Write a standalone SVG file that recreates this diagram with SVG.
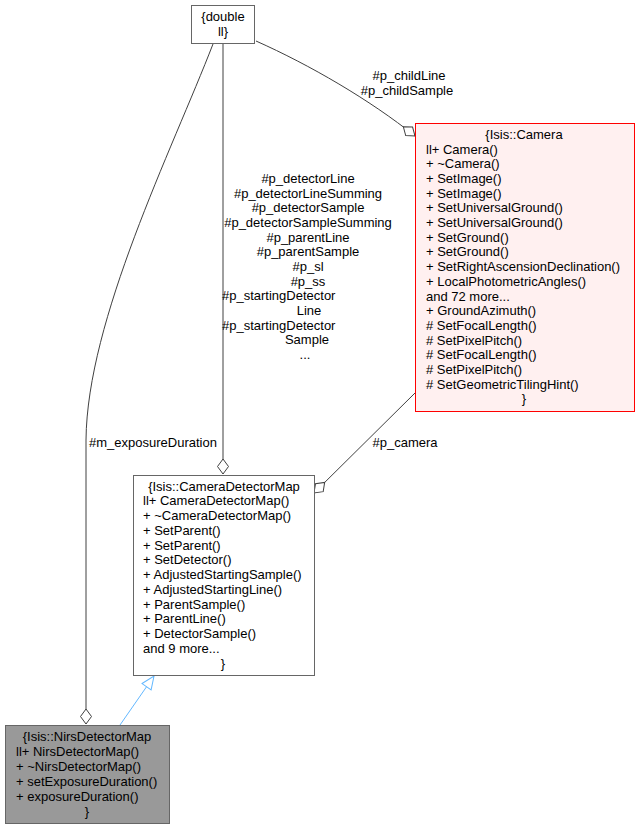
<svg xmlns="http://www.w3.org/2000/svg" width="639" height="829" viewBox="0 0 639 829">
<style>
text{font-family:"Liberation Sans",Arial,sans-serif;font-size:13px;fill:#000}
.m{text-anchor:middle}
.box{fill:#fff;stroke:#666;stroke-width:1}
.edge{fill:none;stroke:#404040;stroke-width:1}
.inh{fill:none;stroke:#63b8ff;stroke-width:1}
</style>
<defs>
<marker id="dia" markerUnits="userSpaceOnUse" markerWidth="18" markerHeight="14" viewBox="-1.5 -7 18 14" refX="15" refY="0" orient="auto" overflow="visible">
<path d="M0,0 L7.5,-5.5 L15,0 L7.5,5.5 Z" fill="#fff" stroke="#404040" stroke-width="1"/>
</marker>
<marker id="tri" markerUnits="userSpaceOnUse" markerWidth="16" markerHeight="14" viewBox="-1.5 -7 16 14" refX="13" refY="0" orient="auto" overflow="visible">
<path d="M0,-5.5 L13,0 L0,5.5 Z" fill="#fff" stroke="#63b8ff" stroke-width="1"/>
</marker>
</defs>
<g id="connectors">
<path class="edge" d="M213,44 C172,150 87,320 86,440 L86,724" marker-end="url(#dia)"/>
<text class="m" x="153" y="447">#m_exposureDuration</text>
<path class="edge" d="M223,44 L223,474" marker-end="url(#dia)"/>
<text class="m" x="308" y="183">#p_detectorLine</text>
<text class="m" x="308" y="197.5">#p_detectorLineSumming</text>
<text class="m" x="308" y="212">#p_detectorSample</text>
<text class="m" x="308" y="227">#p_detectorSampleSumming</text>
<text class="m" x="308" y="241.5">#p_parentLine</text>
<text class="m" x="308" y="256">#p_parentSample</text>
<text class="m" x="308" y="271">#p_sl</text>
<text class="m" x="308" y="285.5">#p_ss</text>
<text x="222" y="300">#p_startingDetector</text>
<text class="m" x="309" y="315">Line</text>
<text x="222" y="329.5">#p_startingDetector</text>
<text class="m" x="307" y="344">Sample</text>
<text class="m" x="305" y="359">...</text>
<path class="edge" d="M256,41 C310,65 370,100 415,136" marker-end="url(#dia)"/>
<text class="m" x="409" y="80">#p_childLine</text>
<text class="m" x="407" y="95">#p_childSample</text>
<path class="edge" d="M415,393 L314,493" marker-end="url(#dia)"/>
<text class="m" x="405" y="447">#p_camera</text>
<path class="inh" d="M120,725 L154,676" marker-end="url(#tri)"/>
</g>
<g id="node-double">
<rect class="box" x="191.5" y="5.5" width="63" height="38"/>
<text class="m" x="223" y="21">{double</text>
<text class="m" x="223" y="36">ll}</text>
</g>
<g id="node-camera">
<rect x="415.5" y="123.5" width="219" height="288" fill="#fff0f0" stroke="#ff0000"/>
<text class="m" x="524" y="139">{Isis::Camera</text>
<text x="426" y="153.7">ll+ Camera()</text>
<text x="426" y="168.4">+ ~Camera()</text>
<text x="426" y="183">+ SetImage()</text>
<text x="426" y="197.7">+ SetImage()</text>
<text x="426" y="212.4">+ SetUniversalGround()</text>
<text x="426" y="227.1">+ SetUniversalGround()</text>
<text x="426" y="241.8">+ SetGround()</text>
<text x="426" y="256.4">+ SetGround()</text>
<text x="426" y="271.1">+ SetRightAscensionDeclination()</text>
<text x="426" y="285.8">+ LocalPhotometricAngles()</text>
<text x="426" y="300.5">and 72 more...</text>
<text x="426" y="315.2">+ GroundAzimuth()</text>
<text x="426" y="329.8"># SetFocalLength()</text>
<text x="426" y="344.5"># SetPixelPitch()</text>
<text x="426" y="359.2"># SetFocalLength()</text>
<text x="426" y="373.9"># SetPixelPitch()</text>
<text x="426" y="388.6"># SetGeometricTilingHint()</text>
<text class="m" x="524" y="403.2">}</text>
</g>
<g id="node-cameradetectormap">
<rect class="box" x="133.5" y="475.5" width="181" height="200"/>
<text class="m" x="224" y="490.5">{Isis::CameraDetectorMap</text>
<text x="143" y="505.2">ll+ CameraDetectorMap()</text>
<text x="143" y="520">+ ~CameraDetectorMap()</text>
<text x="143" y="534.7">+ SetParent()</text>
<text x="143" y="549.5">+ SetParent()</text>
<text x="143" y="564.2">+ SetDetector()</text>
<text x="143" y="579">+ AdjustedStartingSample()</text>
<text x="143" y="593.7">+ AdjustedStartingLine()</text>
<text x="143" y="608.5">+ ParentSample()</text>
<text x="143" y="623.2">+ ParentLine()</text>
<text x="143" y="638">+ DetectorSample()</text>
<text x="143" y="652.7">and 9 more...</text>
<text class="m" x="223" y="667.5">}</text>
</g>
<g id="node-nirsdetectormap">
<rect x="5.5" y="725.5" width="164" height="98" fill="#999999" stroke="#666"/>
<text class="m" x="87" y="741">{Isis::NirsDetectorMap</text>
<text x="16" y="756">ll+ NirsDetectorMap()</text>
<text x="16" y="771">+ ~NirsDetectorMap()</text>
<text x="16" y="786">+ setExposureDuration()</text>
<text x="16" y="801">+ exposureDuration()</text>
<text class="m" x="87" y="816">}</text>
</g>
</svg>
